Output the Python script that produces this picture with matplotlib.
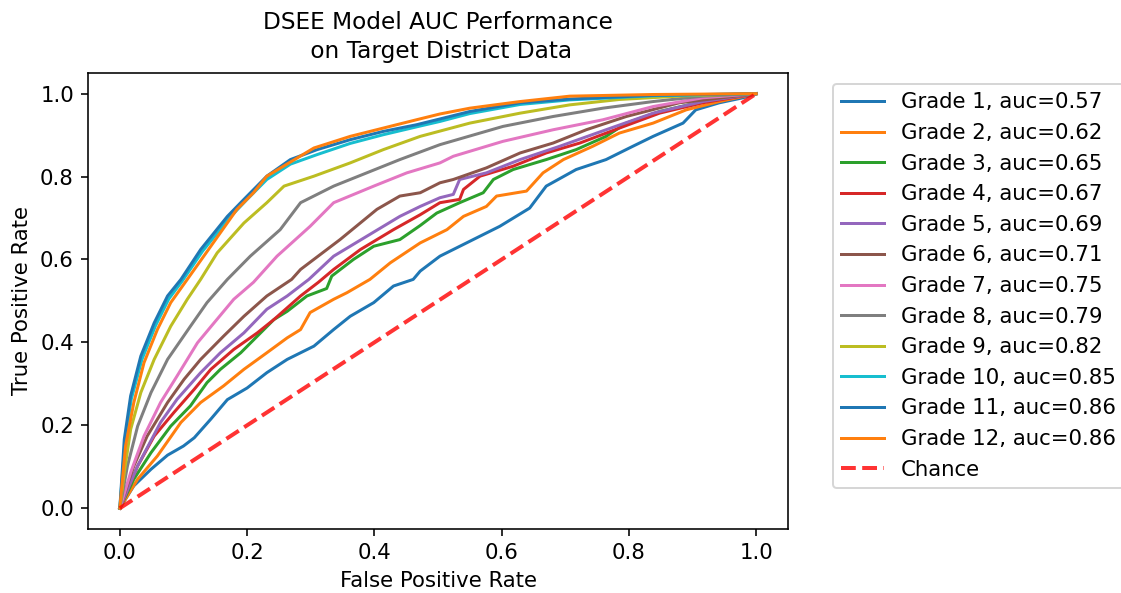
import matplotlib
matplotlib.use('Agg')
import matplotlib.pyplot as plt

plt.rcParams['font.size'] = 10.6

# ROC points per grade (false positive rate, true positive rate)
grades = ['Grade 1', 'Grade 2', 'Grade 3', 'Grade 4', 'Grade 5', 'Grade 6',
          'Grade 7', 'Grade 8', 'Grade 9', 'Grade 10', 'Grade 11', 'Grade 12']
aucs = [0.57, 0.62, 0.65, 0.67, 0.69, 0.71, 0.75, 0.79, 0.82, 0.85, 0.86, 0.86]

fpr_g1 = [0, 0.022, 0.049, 0.075, 0.100, 0.117, 0.143, 0.169, 0.200, 0.231, 0.263, 0.305, 0.336, 0.362, 0.399,
          0.430, 0.461, 0.472, 0.503, 0.550, 0.597, 0.644, 0.670, 0.717, 0.764, 0.806, 0.838, 0.885, 0.905, 0.942,
          0.979, 1.0]
tpr_g1 = [0, 0.054, 0.094, 0.128, 0.150, 0.170, 0.215, 0.262, 0.290, 0.327, 0.359, 0.391, 0.431, 0.463, 0.496,
          0.536, 0.552, 0.572, 0.608, 0.644, 0.680, 0.724, 0.777, 0.817, 0.841, 0.873, 0.897, 0.929, 0.961, 0.978,
          0.990, 1.0]

fpr_g2 = [0, 0.028, 0.059, 0.096, 0.127, 0.163, 0.195, 0.231, 0.263, 0.284, 0.299, 0.336, 0.357, 0.393, 0.425,
          0.472, 0.514, 0.540, 0.576, 0.592, 0.639, 0.665, 0.697, 0.743, 0.785, 0.838, 0.890, 0.942, 1.0]
tpr_g2 = [0, 0.070, 0.126, 0.207, 0.255, 0.295, 0.335, 0.375, 0.411, 0.431, 0.472, 0.504, 0.520, 0.552, 0.592,
          0.640, 0.672, 0.704, 0.728, 0.753, 0.765, 0.809, 0.841, 0.873, 0.905, 0.929, 0.961, 0.981, 1.0]

fpr_g3 = [0, 0.022, 0.049, 0.080, 0.111, 0.137, 0.158, 0.190, 0.216, 0.242, 0.263, 0.294, 0.325, 0.333, 0.367,
          0.399, 0.440, 0.472, 0.498, 0.534, 0.571, 0.587, 0.618, 0.670, 0.717, 0.764, 0.796, 0.848, 0.916, 1.0]
tpr_g3 = [0, 0.070, 0.134, 0.198, 0.247, 0.303, 0.335, 0.375, 0.415, 0.455, 0.475, 0.512, 0.530, 0.560, 0.600,
          0.632, 0.648, 0.682, 0.712, 0.737, 0.761, 0.793, 0.817, 0.841, 0.865, 0.897, 0.929, 0.957, 0.981, 1.0]

fpr_g4 = [0, 0.028, 0.054, 0.085, 0.117, 0.143, 0.179, 0.216, 0.242, 0.284, 0.312, 0.336, 0.378, 0.430, 0.472,
          0.503, 0.534, 0.540, 0.566, 0.618, 0.670, 0.723, 0.785, 0.848, 0.916, 1.0]
tpr_g4 = [0, 0.102, 0.174, 0.231, 0.287, 0.335, 0.383, 0.423, 0.455, 0.512, 0.545, 0.576, 0.624, 0.672, 0.708,
          0.737, 0.745, 0.769, 0.801, 0.825, 0.857, 0.881, 0.917, 0.953, 0.978, 1.0]

fpr_g5 = [0, 0.028, 0.064, 0.090, 0.127, 0.158, 0.195, 0.231, 0.263, 0.297, 0.336, 0.388, 0.440, 0.472, 0.503,
          0.524, 0.534, 0.576, 0.629, 0.691, 0.764, 0.838, 0.916, 1.0]
tpr_g5 = [0, 0.102, 0.207, 0.263, 0.327, 0.375, 0.423, 0.480, 0.512, 0.552, 0.608, 0.656, 0.704, 0.728, 0.749,
          0.757, 0.793, 0.809, 0.841, 0.873, 0.913, 0.953, 0.981, 1.0]

fpr_g6 = [0, 0.022, 0.043, 0.075, 0.101, 0.127, 0.163, 0.195, 0.231, 0.270, 0.284, 0.346, 0.404, 0.440, 0.472,
          0.503, 0.524, 0.576, 0.629, 0.681, 0.733, 0.796, 0.879, 1.0]
tpr_g6 = [0, 0.102, 0.174, 0.255, 0.311, 0.359, 0.415, 0.463, 0.512, 0.552, 0.576, 0.648, 0.721, 0.753, 0.761,
          0.785, 0.793, 0.821, 0.857, 0.881, 0.913, 0.945, 0.978, 1.0]

fpr_g7 = [0, 0.017, 0.038, 0.064, 0.090, 0.122, 0.148, 0.179, 0.210, 0.247, 0.299, 0.336, 0.399, 0.451, 0.503,
          0.524, 0.602, 0.681, 0.759, 0.838, 0.916, 1.0]
tpr_g7 = [0, 0.086, 0.174, 0.255, 0.319, 0.399, 0.447, 0.504, 0.545, 0.608, 0.680, 0.737, 0.777, 0.809, 0.833,
          0.849, 0.885, 0.913, 0.937, 0.969, 0.990, 1.0]

fpr_g8 = [0, 0.012, 0.028, 0.049, 0.075, 0.111, 0.137, 0.169, 0.205, 0.252, 0.284, 0.336, 0.388, 0.440, 0.503,
          0.602, 0.681, 0.759, 0.838, 0.916, 1.0]
tpr_g8 = [0, 0.102, 0.198, 0.279, 0.359, 0.439, 0.496, 0.552, 0.608, 0.672, 0.737, 0.777, 0.809, 0.841, 0.877,
          0.921, 0.945, 0.965, 0.981, 0.994, 1.0]

fpr_g9 = [0, 0.007, 0.017, 0.033, 0.054, 0.080, 0.106, 0.127, 0.153, 0.195, 0.231, 0.258, 0.305, 0.362, 0.414,
          0.472, 0.550, 0.629, 0.707, 0.785, 0.890, 1.0]
tpr_g9 = [0, 0.086, 0.190, 0.279, 0.359, 0.439, 0.504, 0.552, 0.616, 0.688, 0.737, 0.777, 0.801, 0.833, 0.865,
          0.897, 0.929, 0.953, 0.973, 0.986, 0.995, 1.0]

fpr_g10 = [0, 0.008, 0.018, 0.035, 0.056, 0.077, 0.098, 0.130, 0.172, 0.200, 0.231, 0.268, 0.310, 0.362, 0.414,
           0.472, 0.503, 0.550, 0.629, 0.707, 0.838, 1.0]
tpr_g10 = [0, 0.158, 0.263, 0.360, 0.440, 0.505, 0.548, 0.620, 0.700, 0.745, 0.793, 0.830, 0.853, 0.880, 0.901,
           0.922, 0.933, 0.952, 0.974, 0.985, 0.995, 1.0]

fpr_g11 = [0, 0.007, 0.017, 0.033, 0.054, 0.075, 0.096, 0.127, 0.169, 0.195, 0.231, 0.268, 0.310, 0.362, 0.414,
           0.466, 0.503, 0.550, 0.629, 0.707, 0.838, 1.0]
tpr_g11 = [0, 0.166, 0.271, 0.367, 0.447, 0.512, 0.552, 0.624, 0.704, 0.745, 0.801, 0.841, 0.865, 0.889, 0.909,
           0.925, 0.939, 0.957, 0.978, 0.987, 0.996, 1.0]

fpr_g12 = [0, 0.009, 0.022, 0.038, 0.059, 0.080, 0.106, 0.143, 0.184, 0.210, 0.231, 0.305, 0.362, 0.414, 0.466,
           0.503, 0.550, 0.629, 0.707, 0.838, 1.0]
tpr_g12 = [0, 0.150, 0.255, 0.351, 0.431, 0.496, 0.552, 0.632, 0.721, 0.761, 0.801, 0.869, 0.897, 0.917, 0.937,
           0.951, 0.965, 0.981, 0.994, 0.998, 1.0]

fprs = [fpr_g1, fpr_g2, fpr_g3, fpr_g4, fpr_g5, fpr_g6, fpr_g7, fpr_g8, fpr_g9, fpr_g10, fpr_g11, fpr_g12]
tprs = [tpr_g1, tpr_g2, tpr_g3, tpr_g4, tpr_g5, tpr_g6, tpr_g7, tpr_g8, tpr_g9, tpr_g10, tpr_g11, tpr_g12]

fig = plt.figure(figsize=(1121 / 144, 593 / 144), dpi=144)
ax = fig.add_axes([0.0785, 0.108, 0.6245, 0.769])

for grade, auc, fpr, tpr in zip(grades, aucs, fprs, tprs):
    ax.plot(fpr, tpr, label='%s, auc=%.2f' % (grade, auc))

ax.plot([0, 1], [0, 1], linestyle='--', lw=2, color='r', label='Chance', alpha=.8)

ax.set_xlabel('False Positive Rate')
ax.set_ylabel('True Positive Rate')
ax.set_title('DSEE Model AUC Performance\n on Target District Data', fontsize=11.6,
             linespacing=1.35, pad=7.5)
ax.legend(loc='upper left', bbox_to_anchor=(833 / 1121, 1 - 84 / 593),
          bbox_transform=fig.transFigure, borderaxespad=0)

fig.savefig('out.png', dpi=144)
